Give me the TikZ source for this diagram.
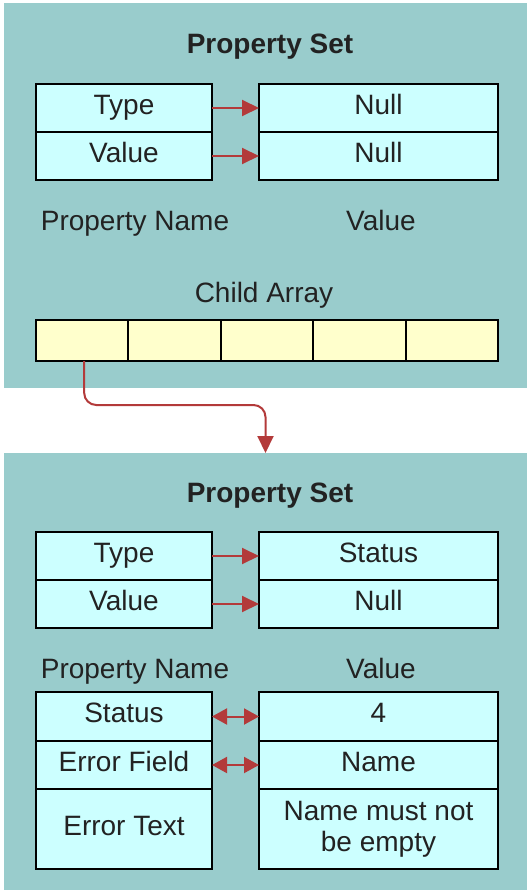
\documentclass[tikz,border=0pt]{standalone}
\usepackage{fontspec}
\setmainfont{Liberation Sans}
\usetikzlibrary{arrows.meta}
\definecolor{panelteal}{HTML}{99CCCC}
\definecolor{cellcyan}{HTML}{CCFFFF}
\definecolor{cellyellow}{HTML}{FFFFCC}
\definecolor{linkred}{HTML}{B33A3A}
\definecolor{inktext}{HTML}{222222}
\begin{document}
\begin{tikzpicture}[x=1pt,y=-1pt,inner sep=0pt,outer sep=0pt,text=inktext,
font=\fontsize{28}{31}\selectfont,
panel/.style={rectangle,fill=panelteal,minimum width=523pt},
caption/.style={text height=19pt,text depth=7pt},
cellbox/.style={draw,line width=2pt,rectangle,fill=cellcyan},
namecell/.style={cellbox,caption,minimum width=176pt,minimum height=48pt},
valcell/.style={namecell,minimum width=239pt},
arraycell/.style={draw,line width=2pt,rectangle,fill=cellyellow,minimum width=92.4pt,minimum height=41pt},
title/.style={caption,font=\fontsize{28}{31}\selectfont\bfseries},
link/.style={draw=linkred,line width=2pt,-{Triangle[length=17pt,width=16pt]}},
duallink/.style={draw=linkred,line width=2pt,{Triangle[length=15pt,width=16pt]}-{Triangle[length=15pt,width=16pt]}}]
\useasboundingbox (0,0) rectangle (527,894);
\draw (265.5,195.5) node[panel,minimum height=385pt] (top) {};
\draw (265.5,671.5) node[panel,minimum height=437pt] (bottom) {};
% upper property set
\draw (270,47) node[title] (set1) {Property Set};
\draw (124,108) node[namecell] (type1) {Type};
\draw (124,156) node[namecell] (value1) {Value};
\draw (378.5,108) node[valcell] (typev1) {Null};
\draw (378.5,156) node[valcell] (valuev1) {Null};
\draw[link] (type1.east) -- (typev1.west);
\draw[link] (value1.east) -- (valuev1.west);
\draw (135,224) node[caption] (pname1) {Property Name};
\draw (381,224) node[caption] (pvalue1) {Value};
\draw (264,296) node[caption] (child) {Child Array};
\foreach \i in {1,...,5}
  \draw ({82.2+(\i-1)*92.4},340.5) node[arraycell] (c\i) {};
\draw[link,rounded corners=12pt] ([xshift=2pt]c1.south) -- ++(0,44) -| (bottom.north);
% lower property set
\draw (270,496) node[title] (set2) {Property Set};
\draw (124,556) node[namecell] (type2) {Type};
\draw (124,604) node[namecell] (value2) {Value};
\draw (378.5,556) node[valcell] (typev2) {Status};
\draw (378.5,604) node[valcell] (valuev2) {Null};
\draw[link] (type2.east) -- (typev2.west);
\draw[link] (value2.east) -- (valuev2.west);
\draw (135,672) node[caption] (pname2) {Property Name};
\draw (381,672) node[caption] (pvalue2) {Value};
\draw (124,716.5) node[namecell,minimum height=49pt] (status) {Status};
\draw (124,765) node[namecell] (efield) {Error Field};
\draw (124,829) node[namecell,minimum height=80pt] (etext) {Error Text};
\draw (378.5,716.5) node[valcell,minimum height=49pt] (statusv) {4};
\draw (378.5,765) node[valcell] (efieldv) {Name};
\draw (378.5,829) node[cellbox,minimum width=239pt,minimum height=80pt,align=center] (etextv) {Name must not\\be empty};
\draw[duallink] (status.east) -- (statusv.west);
\draw[duallink] (efield.east) -- (efieldv.west);
\end{tikzpicture}
\end{document}
